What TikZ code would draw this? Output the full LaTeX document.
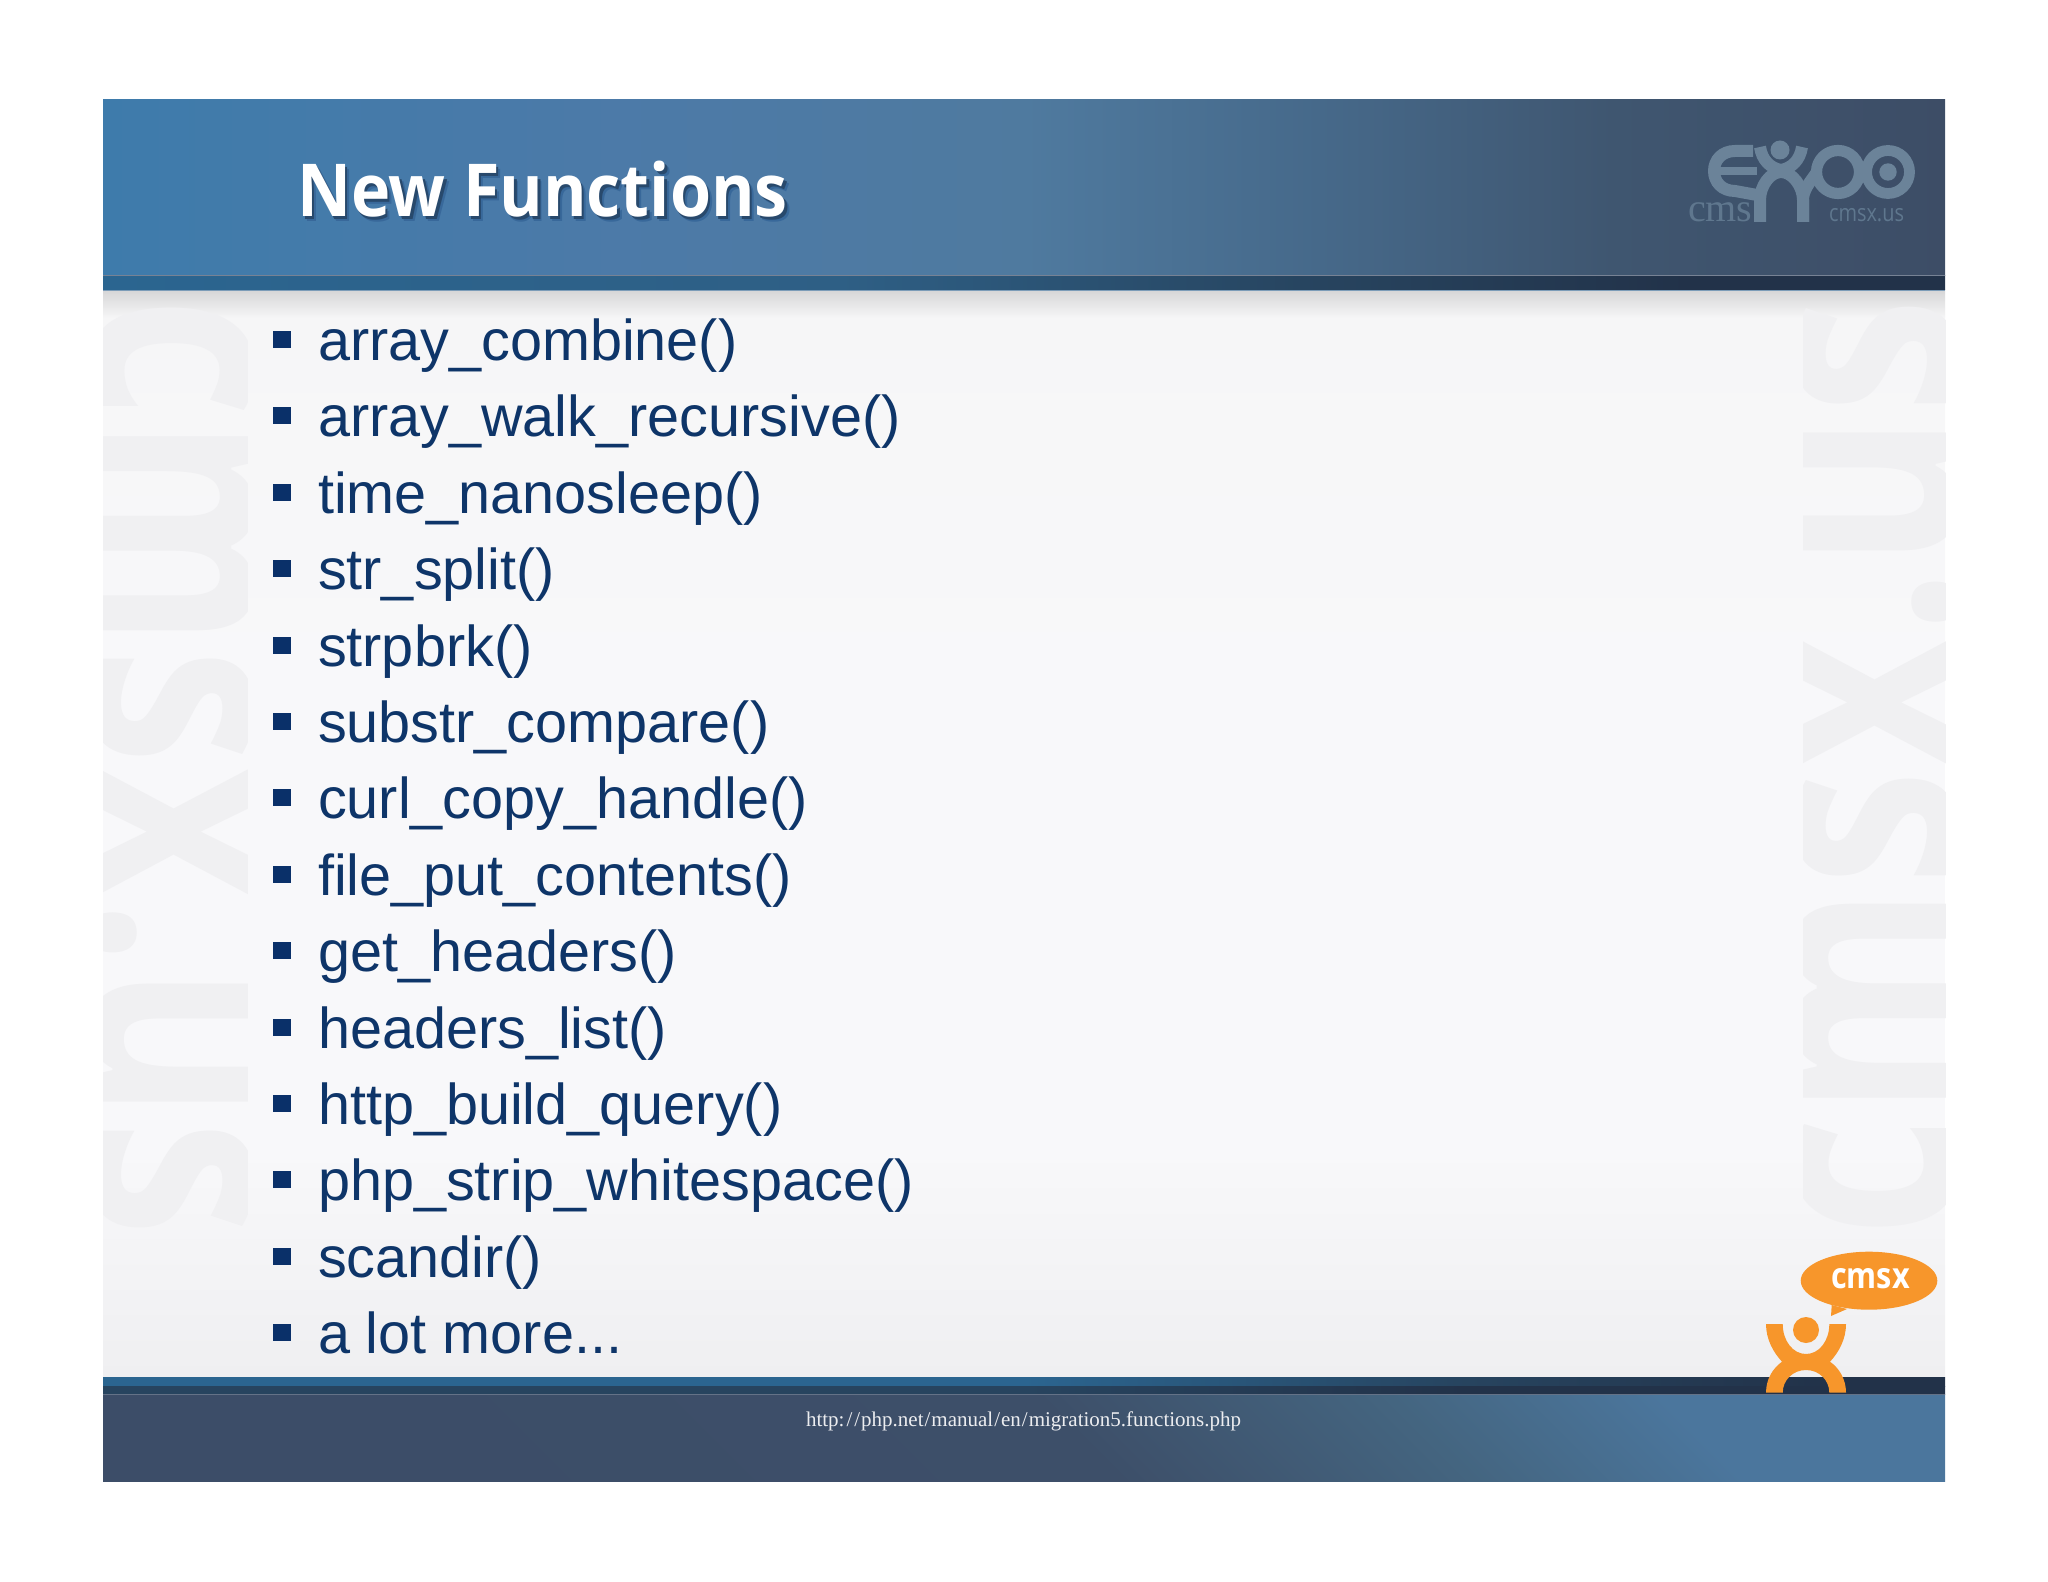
\documentclass[tikz,border=0pt]{standalone}
\usepackage{fontspec}
\setmainfont{Liberation Sans}
\newfontfamily\titlefont{Open Sans}
\newfontfamily\footfont{Liberation Serif}
\usetikzlibrary{shapes.geometric}
\definecolor{txtblue}{HTML}{0E3569}
\definecolor{bulblue}{HTML}{0A3069}
\definecolor{wm}{HTML}{F0F0F2}
\definecolor{logoc}{HTML}{6B8399}
\definecolor{logod}{HTML}{5F778E}
\definecolor{orng}{HTML}{F7962B}
\definecolor{ha}{HTML}{3E7BAB}
\definecolor{hb}{HTML}{4C7AA8}
\definecolor{hc}{HTML}{4F7A9F}
\definecolor{hd}{HTML}{46698A}
\definecolor{he}{HTML}{3F5670}
\definecolor{hf}{HTML}{3D4D66}
\definecolor{sa}{HTML}{2B6590}
\definecolor{sb}{HTML}{2E5F85}
\definecolor{sc}{HTML}{27445F}
\definecolor{sd}{HTML}{223249}
\definecolor{fa}{HTML}{3C4D68}
\definecolor{fb}{HTML}{3D4F69}
\definecolor{fc}{HTML}{446580}
\definecolor{fd}{HTML}{4B769D}
\definecolor{bga}{HTML}{F6F6F7}
\definecolor{bgb}{HTML}{F8F8FA}
\definecolor{bgc}{HTML}{EFEFF1}
\definecolor{sha}{HTML}{D6D6D7}
\pgfdeclarehorizontalshading{hdrshade}{100bp}{color(0bp)=(ha);color(25bp)=(ha);color(39bp)=(hb);color(50bp)=(hc);color(58bp)=(hd);color(66bp)=(he);color(75bp)=(hf);color(100bp)=(hf)}
\pgfdeclarehorizontalshading{topstrip}{100bp}{color(0bp)=(sa);color(25bp)=(sa);color(45bp)=(sb);color(58bp)=(sc);color(68bp)=(sd);color(100bp)=(sd)}
\pgfdeclarehorizontalshading{botstripa}{100bp}{color(0bp)=(sa);color(25bp)=(sa);color(50bp)=(sa);color(62bp)=(sc);color(72bp)=(sd);color(100bp)=(sd)}
\pgfdeclarehorizontalshading{botstripb}{100bp}{color(0bp)=(sc);color(25bp)=(sc);color(50bp)=(sc);color(62bp)=(sd);color(75bp)=(sd);color(100bp)=(sd)}
\pgfdeclarehorizontalshading{footshade}{100bp}{color(0bp)=(fa);color(25bp)=(fa);color(52bp)=(fb);color(65bp)=(fc);color(75bp)=(fd);color(100bp)=(fd)}
\newcommand{\px}[1]{\fontsize{\fpeval{#1/2}}{\fpeval{#1/2*1.2}}\selectfont}
\newcommand{\shadowed}[1]{\rlap{\kern2.4pt\raisebox{-2.4pt}{\color[HTML]{38689A}#1}}\rlap{\kern1.4pt\raisebox{-1.4pt}{\color[HTML]{28496C}#1}}{\color{white}#1}}
\newcommand{\personpath}{(-40,0) -- (-23.3,0) .. controls (-23.3,17) and (-13,30) .. (0,30) .. controls (13,30) and (23.3,17) .. (23.3,0) -- (40,0) .. controls (40,15) and (33,28) .. (24,37.7) .. controls (33,44) and (40,55) .. (40,68.7) -- (23.3,68.7) .. controls (23.3,56) and (13,46) .. (0,46) .. controls (-13,46) and (-23.3,56) .. (-23.3,68.7) -- (-40,68.7) .. controls (-40,55) and (-33,44) .. (-24,37.7) .. controls (-33,28) and (-40,15) .. (-40,0) -- cycle}
\tikzset{
  plain/.style={inner sep=0pt,outer sep=0pt},
  itemtext/.style={plain,anchor=base west,text=txtblue,font=\px{57.6}},
  bullet/.style={fill=bulblue,draw=none},
  wmtext/.style={plain,anchor=base west,text=wm,font=\titlefont\bfseries\px{234}},
  logostroke/.style={draw=logoc,line width=5.4pt,line cap=butt},
}
\begin{document}
\begin{tikzpicture}[x=0.5pt,y=-0.5pt]
\useasboundingbox (0,0) rectangle (2048,1582);
% body
\fill[top color=bga,bottom color=bgb] (103,290) rectangle (1945,700);
\fill[bgb] (103,699) rectangle (1945,1151);
\fill[top color=bgb,bottom color=bgc] (103,1150) rectangle (1945,1378);
% top shadow
\fill[top color=sha,bottom color=bga] (103,290) rectangle (1945,318);
% watermarks
\begin{scope}
  \clip (103,290) rectangle (247,1377);
  \node[wmtext,rotate=-90,yscale=1.25] (wmleft) at (92,298) {cmsx.us};
\end{scope}
\begin{scope}
  \clip (1803,290) rectangle (1945,1377);
  \node[wmtext,rotate=90,yscale=1.25] (wmright) at (1956,1237) {cmsx.us};
\end{scope}
% header
\shade[shading=hdrshade] (103,100) rectangle (1945,276);
\shade[shading=topstrip] (103,276) rectangle (1945,290);
\fill[hf!70!white] (103,275.5) rectangle (1945,276.5);
\fill[ha!60!white!80!hf] (103,290) rectangle (1945,290.8);
% footer
\shade[shading=botstripa] (103,1377) rectangle (1945,1386);
\shade[shading=botstripb] (103,1386) rectangle (1945,1394);
\shade[shading=footshade,shading angle=45] (103,1394) rectangle (1945,1481);
\fill[fb!80!white] (103,1394) rectangle (1945,1395);
% title
\node[plain,anchor=base west,font=\titlefont\bfseries\px{73},xscale=0.91] (title) at (297,217) {\shadowed{New Functions}};
% list
\foreach \i/\t in {0/array\_combine(),1/array\_walk\_recursive(),2/time\_nanosleep(),3/str\_split(),4/strpbrk(),5/substr\_compare(),6/curl\_copy\_handle(),7/file\_put\_contents(),8/get\_headers(),9/headers\_list(),10/http\_build\_query(),11/php\_strip\_whitespace(),12/scandir(),13/{a lot more...}}{
  \pgfmathsetmacro{\yy}{360.5+76.4*\i}
  \fill[bullet] (273,\yy-29.5) rectangle (291,\yy-12.5);
  \node[itemtext] (item\i) at (318,\yy) {\t};
}
% footer text
\node[plain,anchor=base west,text=white!90!fb,font=\footfont\px{21}] (url) at (806,1426) {http:\kern1pt/\kern1pt/\kern0.5pt php.net\kern0.5pt/\kern0.5pt manual\kern0.5pt/\kern0.5pt en\kern0.5pt/\kern0.5pt migration5.functions.php};
% header logo
\fill[logoc] (1780,150) circle (9.5);
\draw[logostroke] (1888,172) circle (21.5);
\fill[logoc] (1888,172) circle (8.7);
\draw[logostroke,line width=5.6pt] (1838,172) circle (21.5);
\draw[logostroke,line width=6pt] (1753,151) -- (1735,151) .. controls (1722,151) and (1714,160) .. (1714,171) .. controls (1714,182) and (1722,191) .. (1735,191) -- (1757,195);
\draw[logostroke,line width=4pt] (1720,171) -- (1757,171);
\draw[logostroke,line width=6pt] (1760,147) .. controls (1762,160) and (1770,168) .. (1781,170) .. controls (1792,168) and (1800,160) .. (1802,147);
\draw[logostroke,line width=6pt] (1760,222) -- (1760,200) .. controls (1760,186) and (1770,172) .. (1781,172) .. controls (1792,172) and (1803,186) .. (1803,200) -- (1803,222);
\draw[logostroke,line width=6pt] (1803,222) -- (1803,200) .. controls (1803,190) and (1810,182) .. (1817,172);
\node[plain,anchor=base west,text=logod,font=\footfont\px{40}] (cmslogo) at (1688,222) {cms};
\node[plain,anchor=base west,text=logod,font=\titlefont\px{24},xscale=0.83] (cmsxus) at (1829,222) {cmsx.us};
% speech bubble and figure
\fill[orng] (1869,1280.7) ellipse [x radius=68.3,y radius=29];
\fill[orng] (1831.7,1305) -- (1831,1316) -- (1847,1309) -- cycle;
\node[plain,anchor=base west,text=white,font=\titlefont\bfseries\px{36},xscale=0.85] (bubble) at (1831,1288) {cmsx};
\begin{scope}[shift={(1806,1324)}]
  \fill[orng] \personpath;
  \fill[orng] (0,6) circle (13);
\end{scope}
\end{tikzpicture}
\end{document}
